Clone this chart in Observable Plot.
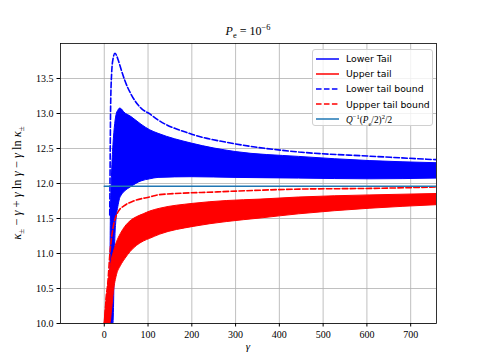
<!DOCTYPE html>
<html>
<head>
<meta charset="utf-8">
<script src="https://cdn.jsdelivr.net/npm/d3@7"></script>
<script src="https://cdn.jsdelivr.net/npm/@observablehq/plot@0.6"></script>
<style>
  html, body { margin: 0; padding: 0; background: #fff; }
  #wrap { position: relative; width: 484px; height: 363px; overflow: hidden; }
  .serif { font-family: "Liberation Serif", "DejaVu Serif", serif; }
  #title { position: absolute; left: 60px; width: 376px; top: 24px; text-align: center; font-size: 12px; }
  #xlabel { position: absolute; left: 60px; width: 376px; top: 340px; text-align: center; font-size: 11px; }
  #ylabel { position: absolute; left: 17px; top: 183px; transform: translate(-50%, -50%) rotate(-90deg); white-space: nowrap; font-size: 12.5px; }
  #legend { position: absolute; left: 312px; top: 49px; width: 121px; height: 77px; box-sizing: border-box;
            background: rgba(255,255,255,0.8); border: 1px solid #d0d0d0; border-radius: 3px;
            font-family: "DejaVu Sans", sans-serif; font-size: 9.3px; padding-top: 1px; white-space: nowrap; }
  .row { display: flex; align-items: center; height: 15.2px; white-space: nowrap; }
  .row svg { margin-left: 3px; margin-right: 7px; flex: none; }
  .row span { flex: none; white-space: nowrap; }
  sub, sup { font-size: 70%; line-height: 0; }
</style>
</head>
<body>
<div id="wrap">
  <div id="title" class="serif"><i>P</i><sub>e</sub> = 10<sup>−6</sup></div>
  <div id="xlabel" class="serif"><i>γ</i></div>
  <div id="ylabel" class="serif"><i>κ</i><sub>±</sub> − <i>γ</i> + <i>γ</i> ln <i>γ</i> − <i>γ</i> ln <i>κ</i><sub>±</sub></div>
  <div id="legend"></div>
</div>
<script>
// ---- data ----
const xTicks = [0, 100, 200, 300, 400, 500, 600, 700];
const yTicks = [10.0, 10.5, 11.0, 11.5, 12.0, 12.5, 13.0, 13.5];

// Lower Tail (blue oscillating band): envelope
const blueGamma = [13.5, 15, 17, 20, 21, 25, 29, 32, 36, 40, 45, 62, 85, 105, 124, 200, 300, 445, 608, 759];
const blueUpper = [10.0, 11.5, 12.0, 12.45, 12.55, 12.85, 13.0, 13.04, 13.07, 13.06, 13.02, 12.95, 12.84, 12.76, 12.71, 12.57, 12.45, 12.38, 12.32, 12.29];
const blueLower = [10.0, 10.0, 10.0, 10.0, 10.0, 11.16, 11.54, 11.66, 11.78, 11.83, 11.87, 11.95, 12.03, 12.06, 12.08, 12.09, 12.08, 12.07, 12.06, 12.07];

// Upper tail (red oscillating band): envelope
const redGamma = [0.5, 4, 8, 14, 18, 22, 29, 38, 48, 60, 75, 90, 105, 128, 204, 281, 357, 445, 608, 759];
const redUpper = [10.0, 10.25, 10.47, 10.78, 10.93, 11.02, 11.16, 11.28, 11.38, 11.46, 11.52, 11.56, 11.60, 11.64, 11.71, 11.75, 11.77, 11.80, 11.83, 11.85];
const redLower = [10.0, 10.0, 10.0, 10.0, 10.2, 10.45, 10.69, 10.82, 10.92, 11.02, 11.11, 11.17, 11.21, 11.27, 11.38, 11.45, 11.50, 11.56, 11.64, 11.69];

// Lower tail bound (blue dashed)
const lbGamma = [12.5, 13, 14.5, 16.8, 20, 24.4, 28, 32, 40, 47, 62.5, 85, 105, 120, 197, 296, 445, 608, 759];
const lbValue = [11.55, 11.95, 13.09, 13.57, 13.78, 13.86, 13.83, 13.76, 13.6, 13.47, 13.26, 13.07, 12.99, 12.92, 12.71, 12.57, 12.45, 12.39, 12.34];

// Uppper tail bound (red dashed)
const ubGamma = [1, 4, 7.6, 13.5, 21, 32, 45, 67, 105, 125, 258, 445, 608, 759];
const ubValue = [10.0, 10.35, 10.54, 11.05, 11.40, 11.60, 11.68, 11.75, 11.81, 11.84, 11.88, 11.92, 11.93, 11.95];

// Q^{-1}(Pe/2)^2/2
const qValue = 11.96;
const qGamma = [0, 759];

const legendLabels = ["Lower Tail", "Upper tail", "Lower tail bound", "Uppper tail bound",
  "<span class='serif'><i>Q</i><sup>−1</sup>(<i>P</i><sub>e</sub>/2)<sup>2</sup>/2</span>"];
const legendColors = ["#0000ff", "#ff0000", "#0000ff", "#ff0000", "#1f77b4"];
const legendDash = [null, null, "5.55,2.4", "5.55,2.4", null];

// ---- build tables ----
const blueBand = blueGamma.map((g, i) => ({g, lo: blueLower[i], hi: blueUpper[i]}));
const redBand = redGamma.map((g, i) => ({g, lo: redLower[i], hi: redUpper[i]}));
const lb = lbGamma.map((g, i) => ({g, v: lbValue[i]}));
const ub = ubGamma.map((g, i) => ({g, v: ubValue[i]}));
const qLine = qGamma.map(g => ({g, v: qValue}));

const dash = "5.55,2.4";
const chart = Plot.plot({
  width: 484, height: 363,
  marginLeft: 60, marginRight: 48, marginTop: 43, marginBottom: 40,
  style: {fontFamily: "'Liberation Serif', 'DejaVu Serif', serif", fontSize: "10px", color: "black", background: "white"},
  x: {domain: [-100, 759]},
  y: {domain: [10, 14]},
  marks: [
    Plot.gridX(xTicks, {stroke: "#b0b0b0", strokeOpacity: 1, strokeWidth: 0.8}),
    Plot.gridY(yTicks, {stroke: "#b0b0b0", strokeOpacity: 1, strokeWidth: 0.8}),
    Plot.areaY(blueBand, {x: "g", y1: "lo", y2: "hi", fill: "#0000ff", stroke: "#0000ff", strokeWidth: 1, curve: "monotone-x", clip: true}),
    Plot.areaY(redBand, {x: "g", y1: "lo", y2: "hi", fill: "#ff0000", stroke: "#ff0000", strokeWidth: 1, curve: "monotone-x", clip: true}),
    Plot.line(lb, {x: "g", y: "v", stroke: "#0000ff", strokeWidth: 1.6, strokeDasharray: dash, curve: "monotone-x", clip: true}),
    Plot.line(ub, {x: "g", y: "v", stroke: "#ff0000", strokeWidth: 1.6, strokeDasharray: dash, curve: "monotone-x", clip: true}),
    Plot.line(qLine, {x: "g", y: "v", stroke: "#1f77b4", strokeWidth: 1.5, clip: true}),
    Plot.frame({stroke: "black", strokeWidth: 0.8}),
    Plot.axisX(xTicks, {tickSize: 3.5, tickPadding: 3.5, label: null, tickFormat: d => String(d)}),
    Plot.axisY(yTicks, {tickSize: 3.5, tickPadding: 3.5, label: null, tickFormat: d => d.toFixed(1)})
  ]
});
const wrap = document.getElementById("wrap");
wrap.insertBefore(chart, wrap.firstChild);

const leg = document.getElementById("legend");
legendLabels.forEach((lab, i) => {
  const row = document.createElement("div");
  row.className = "row";
  const da = legendDash[i] ? `stroke-dasharray="${legendDash[i]}"` : "";
  row.innerHTML = `<svg width="23" height="6"><line x1="0" y1="3" x2="23" y2="3" stroke="${legendColors[i]}" stroke-width="1.5" ${da}/></svg><span>${lab}</span>`;
  leg.appendChild(row);
});
</script>
</body>
</html>
